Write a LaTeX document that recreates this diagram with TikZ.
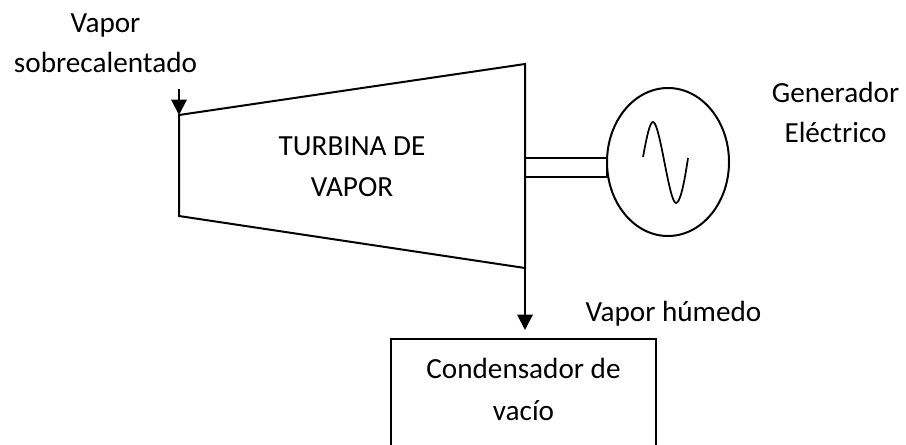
\documentclass[tikz,border=0pt]{standalone}
\usepackage{fontspec}
\setmainfont{Carlito}
\usetikzlibrary{arrows.meta,shapes.geometric}
\tikzset{
  ln/.style={draw=black,line width=1.5pt},
  flow/.style={ln,-{Triangle[length=11.5pt,width=11.5pt]}},
  lbl/.style={inner sep=0pt,anchor=base,font=\fontsize{21.9pt}{24pt}\selectfont,text=black},
}
\begin{document}
\begin{tikzpicture}[x=0.75pt,y=-0.75pt]
\useasboundingbox (0,0) rectangle (906,444);
\coordinate (tl) at (179,115);
\coordinate (tr) at (525,64);
\coordinate (br) at (525,268);
\coordinate (bl) at (179,216);
\coordinate (in) at (179,89);
\coordinate (s1) at (525,158);
\coordinate (s2) at (525,177);
\node[ln,ellipse,minimum width=91.5pt,minimum height=111pt,inner sep=0pt] (gen) at (668,162) {};
\draw[ln,line join=miter] (tr) -- (br) -- (bl) -- (tl) -- cycle;
\draw[flow] (in) -- (tl);
\node[minimum width=198pt,minimum height=90pt,inner sep=0pt,anchor=north west] (cond) at (391,339) {};
\draw[flow] (br) -- (525,330);
\draw[ln] (cond.south west) -- (cond.north west) -- (cond.north east) -- (cond.south east);
\coordinate (g1) at (607,158);
\coordinate (g2) at (607,177);
\draw[ln] (s1) -- (g1) -- (g2) -- (s2);
\draw[ln,line width=1.3pt] (643,157) .. controls (647,135) and (650,122) .. (653,122) .. controls (660,122) and (669,203) .. (676,203) .. controls (680,203) and (684,185) .. (688,158);
\node[lbl] (v1) at (105.5,32) {Vapor};
\node[lbl] (v2) at (105.5,72.5) {sobrecalentado};
\node[lbl] (t1) at (352,155) {TURBINA DE};
\node[lbl] (t2) at (352,196) {VAPOR};
\node[lbl] (g1t) at (835.5,102) {Generador};
\node[lbl] (g2t) at (835.5,142.5) {Eléctrico};
\node[lbl] (vh) at (673.5,321.5) {Vapor húmedo};
\node[lbl] (c1) at (523.5,378) {Condensador de};
\node[lbl] (c2) at (523.5,420) {vacío};
\end{tikzpicture}
\end{document}
